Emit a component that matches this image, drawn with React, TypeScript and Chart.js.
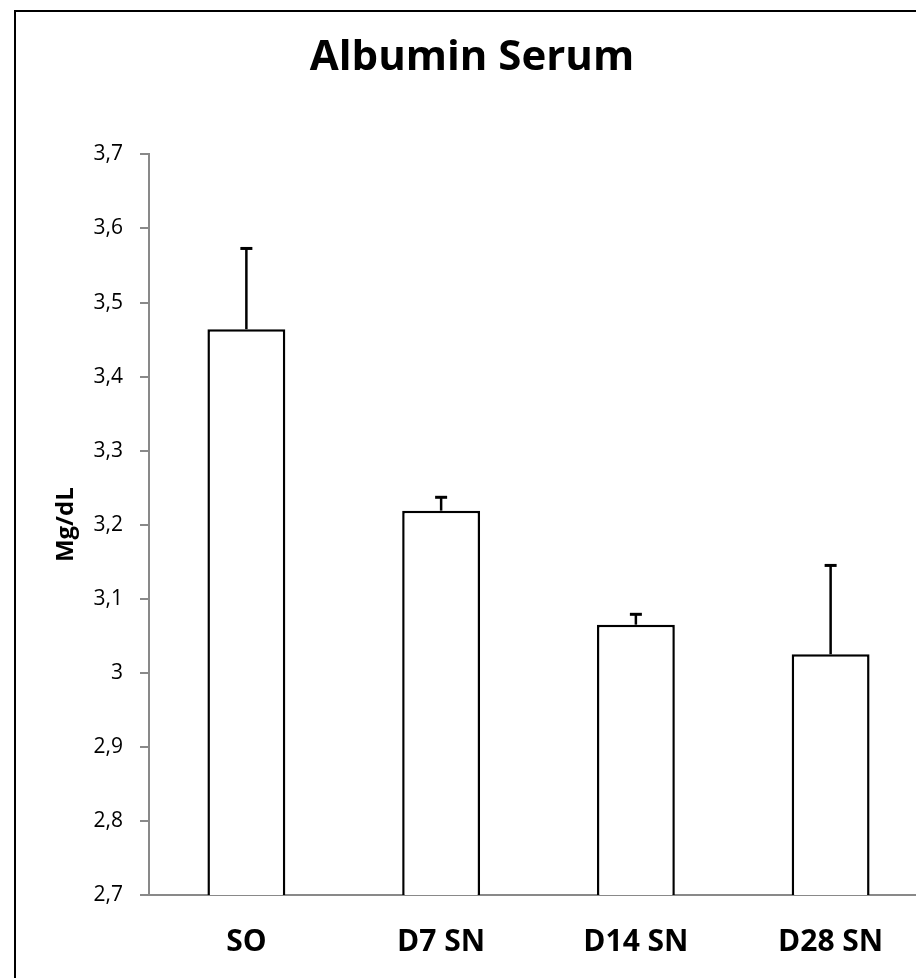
import React, { useEffect, useRef } from "react";
import { Chart, registerables } from "chart.js";

Chart.register(...registerables);

const categories = ["SO", "D7 SN", "D14 SN", "D28 SN"];
const meanValues = [3.464, 3.219, 3.065, 3.025];
const errorValues = [0.109, 0.018, 0.014, 0.12];
const yTickLabels = ["2,7", "2,8", "2,9", "3", "3,1", "3,2", "3,3", "3,4", "3,5", "3,6", "3,7"];

const errorBarPlugin = {
  id: "errorBars",
  afterDatasetsDraw(chart: any) {
    const ctx = chart.ctx;
    const meta = chart.getDatasetMeta(0);
    const yScale = chart.scales.y;
    ctx.save();
    ctx.strokeStyle = "#000";
    meta.data.forEach((bar: any, i: number) => {
      const x = bar.x;
      const yTop = yScale.getPixelForValue(meanValues[i]);
      const yErr = yScale.getPixelForValue(meanValues[i] + errorValues[i]);
      ctx.lineWidth = 2.5;
      ctx.beginPath();
      ctx.moveTo(x, yTop);
      ctx.lineTo(x, yErr);
      ctx.stroke();
      ctx.lineWidth = 3;
      ctx.beginPath();
      ctx.moveTo(x - 6, yErr);
      ctx.lineTo(x + 6, yErr);
      ctx.stroke();
    });
    ctx.restore();
  },
};

export default function App() {
  const ref = useRef<HTMLCanvasElement>(null);
  useEffect(() => {
    if (!ref.current) return;
    const chart = new Chart(ref.current, {
      type: "bar",
      data: {
        labels: categories,
        datasets: [
          {
            data: meanValues,
            backgroundColor: "#ffffff",
            borderColor: "#000000",
            borderWidth: 2.5,
            barPercentage: 0.4,
            categoryPercentage: 1,
          },
        ],
      },
      options: {
        animation: false,
        responsive: false,
        maintainAspectRatio: false,
        layout: { padding: 0 },
        plugins: {
          legend: { display: false },
          tooltip: { enabled: false },
          title: {
            display: true,
            text: "Albumin Serum",
            color: "#000",
            font: { family: "'Open Sans'", size: 42, weight: "bold", lineHeight: 1.2 },
            padding: { top: 21, bottom: 71 },
          },
        },
        scales: {
          x: {
            grid: { display: false, drawTicks: false },
            border: { display: true, color: "#898989", width: 2 },
            ticks: {
              color: "#000",
              padding: 29,
              font: { family: "'Open Sans'", size: 30, weight: "bold" },
            },
            afterFit(scale: any) {
              scale.height = 83;
            },
          },
          y: {
            min: 2.7,
            max: 3.7,
            grid: {
              drawOnChartArea: false,
              drawTicks: true,
              tickLength: 9,
              color: "#898989",
              lineWidth: 2,
            },
            border: { display: true, color: "#898989", width: 2 },
            ticks: {
              stepSize: 0.1,
              color: "#000",
              padding: 17,
              font: { family: "'Open Sans'", size: 21 },
              callback: (_v: any, i: number) => yTickLabels[i],
            },
            title: {
              display: true,
              text: "Mg/dL",
              color: "#000",
              font: { family: "'Open Sans'", size: 24, weight: "bold", lineHeight: 1.2 },
              padding: { top: 36, bottom: 0 },
            },
            afterFit(scale: any) {
              scale.width = 133;
            },
          },
        },
      },
      plugins: [errorBarPlugin],
    } as any);
    return () => chart.destroy();
  }, []);

  return (
    <div style={{ position: "relative", width: 916, height: 970, overflow: "hidden" }}>
      <div
        style={{
          position: "absolute",
          left: 6,
          top: 2,
          border: "2px solid #000",
          width: 912,
          height: 1000,
        }}
      >
        <canvas ref={ref} width={912} height={966} style={{ display: "block", width: 912, height: 966 }} />
      </div>
    </div>
  );
}
